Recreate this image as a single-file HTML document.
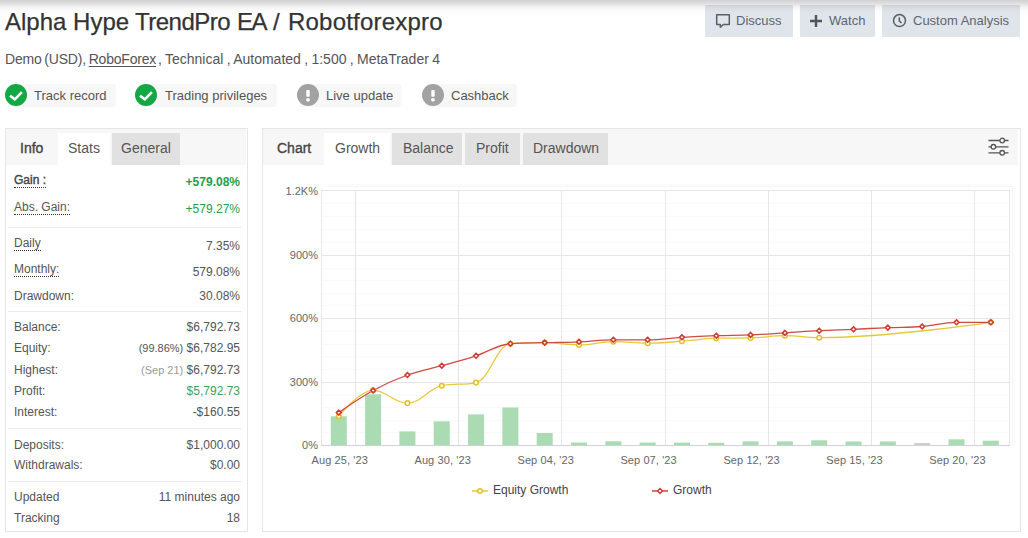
<!DOCTYPE html>
<html><head><meta charset="utf-8">
<style>
*{box-sizing:border-box;margin:0;padding:0}
html,body{width:1028px;height:538px;overflow:hidden;background:#fff}
body{font-family:"Liberation Sans",sans-serif;color:#555;position:relative}
.a{position:absolute;white-space:nowrap}
#topsh{left:0;top:0;width:1028px;height:16px;background:linear-gradient(rgba(0,0,0,.175) 0px,rgba(0,0,0,.14) 2.5px,rgba(0,0,0,.1) 4.5px,rgba(0,0,0,.06) 6.5px,rgba(0,0,0,.03) 8.5px,rgba(0,0,0,.015) 10.5px,rgba(0,0,0,.007) 12.5px,rgba(0,0,0,0) 15px)}
#title{left:5px}
#title,.ttl{top:8px;font-size:24px;line-height:28px;color:#333;-webkit-text-stroke:0.25px #333}
.sub{top:51px;font-size:14px;word-spacing:-0.9px;line-height:17px;color:#555}
.sub u{text-decoration:underline;text-underline-offset:2px}
.btn{top:5px;height:32px;background:#e0e4eb;border-radius:1px;font-size:13px;line-height:32px;color:#5f6670}
.badge{top:84px;height:23px;background:#f7f7f7;border-radius:3px;font-size:13px;line-height:23px;color:#555}
.ic{position:absolute;top:84px;width:22px;height:22px;border-radius:50%}
.ok{background:#14a844}
.warn{background:#a2a2a2}
.panel{position:absolute;top:128px;border:1px solid #e6e6e6;background:#fff}
.hdr{position:absolute;left:0;top:0;height:36px;background:#f7f7f7}
.tab{position:absolute;top:4px;height:32px;font-size:14px;line-height:31px;color:#555}
.tab.on{background:#fff}
.tab.off{background:#e1e1e1}
.tab.b{color:#444;-webkit-text-stroke:0.35px #444}
.lbl{position:absolute;left:8px;font-size:12px;color:#555}
.val{position:absolute;right:7px;font-size:12px;color:#555;text-align:right}
.dot{border-bottom:1px dotted #333}
.sep{position:absolute;left:2px;width:234px;height:1px;background:#ebebeb}
.g{color:#21a04a}
.ax{position:absolute;font-size:11px;color:#666}
</style></head><body>
<div class="a" id="title">Alpha Hype</div>
<div class="a ttl" style="left:135px;letter-spacing:-0.5px">TrendPro</div>
<div class="a ttl" style="left:237px"><span style="letter-spacing:-1.5px">E</span>A</div>
<div class="a ttl" style="left:273px">/</div>
<div class="a ttl" style="left:288px;letter-spacing:0.2px">Robotforexpro</div>
<div class="a sub" style="left:5px;letter-spacing:-0.2px">Demo (USD), <u>RoboForex</u></div>
<div class="a sub" style="left:158px;word-spacing:-0.55px">, Technical , Automated , 1:500 , MetaTrader 4</div>

<div class="a btn" id="b1" style="left:705px;width:88px">
<svg style="position:absolute;left:10px;top:8px" width="16" height="16" viewBox="0 0 16 16"><path d="M1.7 1.7 H14.3 V11.4 H8.6 L5.3 14.2 V11.4 H1.7 Z" fill="none" stroke="#5a5f66" stroke-width="1.5" stroke-linejoin="round"/></svg>
<span style="position:absolute;left:31px">Discuss</span></div>
<div class="a btn" id="b2" style="left:800px;width:75px">
<svg style="position:absolute;left:9px;top:9px" width="14" height="14" viewBox="0 0 14 14"><path d="M7 1V13M1 7H13" stroke="#4f545b" stroke-width="2.4"/></svg>
<span style="position:absolute;left:29px">Watch</span></div>
<div class="a btn" id="b3" style="left:882px;width:138px">
<svg style="position:absolute;left:10px;top:8px" width="16" height="16" viewBox="0 0 16 16"><circle cx="7.5" cy="7.6" r="6" fill="none" stroke="#5a5f66" stroke-width="1.5"/><path d="M7.3 4.3V8.2L9.6 9.9" fill="none" stroke="#5a5f66" stroke-width="1.5"/></svg>
<span style="position:absolute;left:31px">Custom Analysis</span></div>

<div class="a badge" style="left:10px;width:106px"></div>
<div class="ic ok" style="left:5px"><svg width="22" height="22" viewBox="0 0 22 22"><path d="M5 11.8L9.8 15.3L16.9 8.2" fill="none" stroke="#fff" stroke-width="2.6"/></svg></div>
<div class="a badge" id="t1" style="left:34px;padding-left:0">Track record</div>

<div class="a badge" style="left:140px;width:137px"></div>
<div class="ic ok" style="left:135px"><svg width="22" height="22" viewBox="0 0 22 22"><path d="M5 11.8L9.8 15.3L16.9 8.2" fill="none" stroke="#fff" stroke-width="2.6"/></svg></div>
<div class="a badge" id="t2" style="left:165px">Trading privileges</div>

<div class="a badge" style="left:300px;width:101px"></div>
<div class="ic warn" style="left:297px"><svg width="22" height="22" viewBox="0 0 22 22"><rect x="9.3" y="6" width="3.4" height="6.8" rx="0.8" fill="#fff"/><rect x="9.3" y="14.2" width="3.4" height="3.2" rx="1" fill="#fff"/></svg></div>
<div class="a badge" id="t3" style="left:326px">Live update</div>

<div class="a badge" style="left:425px;width:92px"></div>
<div class="ic warn" style="left:422px"><svg width="22" height="22" viewBox="0 0 22 22"><rect x="9.3" y="6" width="3.4" height="6.8" rx="0.8" fill="#fff"/><rect x="9.3" y="14.2" width="3.4" height="3.2" rx="1" fill="#fff"/></svg></div>
<div class="a badge" id="t4" style="left:451px">Cashback</div>

<!-- left panel -->
<div class="panel" style="left:5px;width:243px;height:404px">
 <div class="hdr" style="width:240px"></div>
 <div class="tab b" id="tInfo" style="left:14px">Info</div>
 <div class="tab on" id="tStats" style="left:52px;width:52px;padding-left:10px">Stats</div>
 <div class="tab off" id="tGen" style="left:106px;width:68px;padding-left:9px">General</div>

 <div class="lbl" id="lGain" style="top:44px;color:#444;-webkit-text-stroke:0.4px #444"><span class="dot">Gain :</span></div>
 <div class="val g" style="top:46px;font-weight:bold">+579.08%</div>
 <div class="lbl" style="top:71px"><span class="dot">Abs. Gain:</span></div>
 <div class="val g" style="top:73px">+579.27%</div>
 <div class="sep" style="top:98px"></div>
 <div class="lbl" style="top:107px"><span class="dot">Daily</span></div>
 <div class="val" style="top:110px">7.35%</div>
 <div class="lbl" style="top:133px"><span class="dot">Monthly:</span></div>
 <div class="val" style="top:136px">579.08%</div>
 <div class="lbl" style="top:160px">Drawdown:</div>
 <div class="val" style="top:160px">30.08%</div>
 <div class="sep" style="top:182px"></div>
 <div class="lbl" style="top:191px">Balance:</div>
 <div class="val" style="top:191px">$6,792.73</div>
 <div class="lbl" style="top:212px">Equity:</div>
 <div class="val" style="top:212px"><span style="font-size:11px">(99.86%)</span> $6,782.95</div>
 <div class="lbl" style="top:234px">Highest:</div>
 <div class="val" style="top:234px"><span style="font-size:11px;color:#999">(Sep 21)</span> $6,792.73</div>
 <div class="lbl" style="top:255px">Profit:</div>
 <div class="val g" style="top:255px;color:#3aa35a">$5,792.73</div>
 <div class="lbl" style="top:276px">Interest:</div>
 <div class="val" style="top:276px">-$160.55</div>
 <div class="sep" style="top:299px"></div>
 <div class="lbl" style="top:309px">Deposits:</div>
 <div class="val" style="top:309px">$1,000.00</div>
 <div class="lbl" style="top:329px">Withdrawals:</div>
 <div class="val" style="top:329px">$0.00</div>
 <div class="sep" style="top:352px"></div>
 <div class="lbl" style="top:361px">Updated</div>
 <div class="val" style="top:361px">11 minutes ago</div>
 <div class="lbl" style="top:382px">Tracking</div>
 <div class="val" style="top:382px">18</div>
</div>

<!-- chart panel -->
<div class="panel" style="left:262px;width:759px;height:404px">
 <div class="hdr" style="width:755px"></div>
 <div class="tab b" id="tChart" style="left:14px">Chart</div>
 <div class="tab on" id="tGrowth" style="left:61px;width:66px;padding-left:11px">Growth</div>
 <div class="tab off" id="tBal" style="left:129px;width:70px;padding-left:11px">Balance</div>
 <div class="tab off" id="tProf" style="left:202px;width:55px;padding-left:11px">Profit</div>
 <div class="tab off" id="tDD" style="left:260px;width:85px;padding-left:10px">Drawdown</div>
 <svg style="position:absolute;left:724px;top:8px" width="24" height="20" viewBox="0 0 24 20"><g fill="none" stroke="#555" stroke-width="1.3"><path d="M1.5 3.5H21.5M1.5 9.8H21.5M1.5 15.8H21.5"/><circle cx="15.2" cy="3.5" r="2.3" fill="#f7f7f7"/><circle cx="6.4" cy="9.8" r="2.3" fill="#f7f7f7"/><circle cx="15.2" cy="15.8" r="2.3" fill="#f7f7f7"/></g></svg>
</div>

<svg class="a" style="left:0;top:0" width="1028" height="538" viewBox="0 0 1028 538">
<line x1="321.0" y1="203.5" x2="1010.0" y2="203.5" stroke="#fafafa" stroke-width="1"/>
<line x1="321.0" y1="216.5" x2="1010.0" y2="216.5" stroke="#fafafa" stroke-width="1"/>
<line x1="321.0" y1="229.5" x2="1010.0" y2="229.5" stroke="#fafafa" stroke-width="1"/>
<line x1="321.0" y1="242.5" x2="1010.0" y2="242.5" stroke="#fafafa" stroke-width="1"/>
<line x1="321.0" y1="268.5" x2="1010.0" y2="268.5" stroke="#fafafa" stroke-width="1"/>
<line x1="321.0" y1="280.5" x2="1010.0" y2="280.5" stroke="#fafafa" stroke-width="1"/>
<line x1="321.0" y1="293.5" x2="1010.0" y2="293.5" stroke="#fafafa" stroke-width="1"/>
<line x1="321.0" y1="305.5" x2="1010.0" y2="305.5" stroke="#fafafa" stroke-width="1"/>
<line x1="321.0" y1="331.5" x2="1010.0" y2="331.5" stroke="#fafafa" stroke-width="1"/>
<line x1="321.0" y1="344.5" x2="1010.0" y2="344.5" stroke="#fafafa" stroke-width="1"/>
<line x1="321.0" y1="356.5" x2="1010.0" y2="356.5" stroke="#fafafa" stroke-width="1"/>
<line x1="321.0" y1="369.5" x2="1010.0" y2="369.5" stroke="#fafafa" stroke-width="1"/>
<line x1="321.0" y1="395.5" x2="1010.0" y2="395.5" stroke="#fafafa" stroke-width="1"/>
<line x1="321.0" y1="407.5" x2="1010.0" y2="407.5" stroke="#fafafa" stroke-width="1"/>
<line x1="321.0" y1="420.5" x2="1010.0" y2="420.5" stroke="#fafafa" stroke-width="1"/>
<line x1="321.0" y1="432.5" x2="1010.0" y2="432.5" stroke="#fafafa" stroke-width="1"/>
<line x1="321.0" y1="190.5" x2="1010.0" y2="190.5" stroke="#e6e6e6" stroke-width="1"/>
<line x1="321.0" y1="255.5" x2="1010.0" y2="255.5" stroke="#e6e6e6" stroke-width="1"/>
<line x1="321.0" y1="318.5" x2="1010.0" y2="318.5" stroke="#e6e6e6" stroke-width="1"/>
<line x1="321.0" y1="382.5" x2="1010.0" y2="382.5" stroke="#e6e6e6" stroke-width="1"/>
<line x1="355.5" y1="190.0" x2="355.5" y2="445.0" stroke="#e6e6e6" stroke-width="1"/>
<line x1="458.5" y1="190.0" x2="458.5" y2="445.0" stroke="#e6e6e6" stroke-width="1"/>
<line x1="561.5" y1="190.0" x2="561.5" y2="445.0" stroke="#e6e6e6" stroke-width="1"/>
<line x1="665.5" y1="190.0" x2="665.5" y2="445.0" stroke="#e6e6e6" stroke-width="1"/>
<line x1="768.5" y1="190.0" x2="768.5" y2="445.0" stroke="#e6e6e6" stroke-width="1"/>
<line x1="871.5" y1="190.0" x2="871.5" y2="445.0" stroke="#e6e6e6" stroke-width="1"/>
<line x1="974.5" y1="190.0" x2="974.5" y2="445.0" stroke="#e6e6e6" stroke-width="1"/>
<line x1="321.5" y1="190.0" x2="321.5" y2="445.0" stroke="#e6e6e6" stroke-width="1"/>
<line x1="1009.5" y1="190.0" x2="1009.5" y2="445.0" stroke="#e6e6e6" stroke-width="1"/>
<line x1="328" y1="184.5" x2="1012" y2="184.5" stroke="#f9f9f9" stroke-width="1"/>
<line x1="328" y1="186.5" x2="1012" y2="186.5" stroke="#f4f4f4" stroke-width="1"/>
<line x1="1012.5" y1="186" x2="1012.5" y2="445" stroke="#f6f6f6" stroke-width="1"/>
<line x1="1014.5" y1="186" x2="1014.5" y2="445" stroke="#fafafa" stroke-width="1"/>
<line x1="321.0" y1="445.5" x2="1010.0" y2="445.5" stroke="#cfd3d8" stroke-width="1"/>
<rect x="330.80" y="416.30" width="16" height="29.00" fill="#aadbb2"/>
<rect x="365.12" y="394.30" width="16" height="51.00" fill="#aadbb2"/>
<rect x="399.43" y="431.40" width="16" height="13.90" fill="#aadbb2"/>
<rect x="433.75" y="421.30" width="16" height="24.00" fill="#aadbb2"/>
<rect x="468.06" y="414.40" width="16" height="30.90" fill="#aadbb2"/>
<rect x="502.38" y="407.50" width="16" height="37.80" fill="#aadbb2"/>
<rect x="536.70" y="433.00" width="16" height="12.30" fill="#aadbb2"/>
<rect x="571.01" y="442.50" width="16" height="2.80" fill="#aadbb2"/>
<rect x="605.33" y="441.30" width="16" height="4.00" fill="#aadbb2"/>
<rect x="639.64" y="442.50" width="16" height="2.80" fill="#aadbb2"/>
<rect x="673.96" y="442.60" width="16" height="2.70" fill="#aadbb2"/>
<rect x="708.28" y="442.80" width="16" height="2.50" fill="#aadbb2"/>
<rect x="742.59" y="441.40" width="16" height="3.90" fill="#aadbb2"/>
<rect x="776.91" y="441.40" width="16" height="3.90" fill="#aadbb2"/>
<rect x="811.22" y="440.30" width="16" height="5.00" fill="#aadbb2"/>
<rect x="845.54" y="441.50" width="16" height="3.80" fill="#aadbb2"/>
<rect x="879.86" y="441.50" width="16" height="3.80" fill="#aadbb2"/>
<rect x="914.17" y="443.00" width="16" height="2.30" fill="#cfcfcf"/>
<rect x="948.49" y="439.30" width="16" height="6.00" fill="#aadbb2"/>
<rect x="982.80" y="440.70" width="16" height="4.60" fill="#aadbb2"/>
<path d="M 338.80 416.20 C 338.80 416.20 359.39 390.30 373.12 390.30 C 386.84 390.30 393.71 403.10 407.43 403.10 C 421.16 403.10 428.02 388.80 441.75 385.70 C 455.47 382.60 462.34 385.70 476.06 382.60 C 489.79 379.50 496.65 344.80 510.38 343.70 C 524.11 342.60 530.97 342.60 544.70 342.60 C 558.42 342.60 565.29 344.90 579.01 344.90 C 592.74 344.90 599.60 341.70 613.33 341.70 C 627.05 341.70 633.92 343.20 647.64 343.20 C 661.37 343.20 668.23 342.20 681.96 341.20 C 695.69 340.20 702.55 338.50 716.28 338.20 C 730.00 337.90 736.87 338.20 750.59 337.90 C 764.32 337.60 771.18 335.70 784.91 335.70 C 798.63 335.70 805.50 337.70 819.22 337.70 C 887.86 337.70 990.80 322.30 990.80 322.30" fill="none" stroke="#e8c83a" stroke-width="1.3"/>
<path d="M 338.80 412.60 C 338.80 412.60 359.39 398.02 373.12 390.50 C 386.84 382.98 393.71 379.96 407.43 375.00 C 421.16 370.04 428.02 369.54 441.75 365.70 C 455.47 361.86 462.34 360.20 476.06 355.80 C 489.79 351.40 496.65 344.80 510.38 343.70 C 524.11 342.60 530.97 342.98 544.70 342.60 C 558.42 342.22 565.29 342.36 579.01 341.80 C 592.74 341.24 599.60 339.80 613.33 339.80 C 627.05 339.80 633.92 339.80 647.64 339.80 C 661.37 339.80 668.23 338.12 681.96 337.30 C 695.69 336.48 702.55 336.18 716.28 335.70 C 730.00 335.22 736.87 335.46 750.59 334.90 C 764.32 334.34 771.18 333.74 784.91 332.90 C 798.63 332.06 805.50 331.42 819.22 330.70 C 832.95 329.98 839.81 329.92 853.54 329.30 C 867.27 328.68 874.13 328.16 887.86 327.60 C 901.58 327.04 908.45 327.56 922.17 326.50 C 935.90 325.44 942.76 322.30 956.49 322.30 C 970.21 322.30 990.80 322.30 990.80 322.30" fill="none" stroke="#d24a44" stroke-width="1.3"/>
<circle cx="338.80" cy="416.20" r="2.3" fill="#fff" stroke="#e3c020" stroke-width="1.5"/>
<circle cx="373.12" cy="390.30" r="2.3" fill="#fff" stroke="#e3c020" stroke-width="1.5"/>
<circle cx="407.43" cy="403.10" r="2.3" fill="#fff" stroke="#e3c020" stroke-width="1.5"/>
<circle cx="441.75" cy="385.70" r="2.3" fill="#fff" stroke="#e3c020" stroke-width="1.5"/>
<circle cx="476.06" cy="382.60" r="2.3" fill="#fff" stroke="#e3c020" stroke-width="1.5"/>
<circle cx="510.38" cy="343.70" r="2.3" fill="#fff" stroke="#e3c020" stroke-width="1.5"/>
<circle cx="544.70" cy="342.60" r="2.3" fill="#fff" stroke="#e3c020" stroke-width="1.5"/>
<circle cx="579.01" cy="344.90" r="2.3" fill="#fff" stroke="#e3c020" stroke-width="1.5"/>
<circle cx="613.33" cy="341.70" r="2.3" fill="#fff" stroke="#e3c020" stroke-width="1.5"/>
<circle cx="647.64" cy="343.20" r="2.3" fill="#fff" stroke="#e3c020" stroke-width="1.5"/>
<circle cx="681.96" cy="341.20" r="2.3" fill="#fff" stroke="#e3c020" stroke-width="1.5"/>
<circle cx="716.28" cy="338.20" r="2.3" fill="#fff" stroke="#e3c020" stroke-width="1.5"/>
<circle cx="750.59" cy="337.90" r="2.3" fill="#fff" stroke="#e3c020" stroke-width="1.5"/>
<circle cx="784.91" cy="335.70" r="2.3" fill="#fff" stroke="#e3c020" stroke-width="1.5"/>
<circle cx="819.22" cy="337.70" r="2.3" fill="#fff" stroke="#e3c020" stroke-width="1.5"/>
<circle cx="990.80" cy="322.30" r="2.3" fill="#fff" stroke="#e3c020" stroke-width="1.5"/>
<path d="M 338.80 410.20 l 2.4 2.4 l -2.4 2.4 l -2.4 -2.4 z" fill="#fff" stroke="#cf3b35" stroke-width="1.6"/>
<path d="M 373.12 388.10 l 2.4 2.4 l -2.4 2.4 l -2.4 -2.4 z" fill="#fff" stroke="#cf3b35" stroke-width="1.6"/>
<path d="M 407.43 372.60 l 2.4 2.4 l -2.4 2.4 l -2.4 -2.4 z" fill="#fff" stroke="#cf3b35" stroke-width="1.6"/>
<path d="M 441.75 363.30 l 2.4 2.4 l -2.4 2.4 l -2.4 -2.4 z" fill="#fff" stroke="#cf3b35" stroke-width="1.6"/>
<path d="M 476.06 353.40 l 2.4 2.4 l -2.4 2.4 l -2.4 -2.4 z" fill="#fff" stroke="#cf3b35" stroke-width="1.6"/>
<path d="M 510.38 341.30 l 2.4 2.4 l -2.4 2.4 l -2.4 -2.4 z" fill="#fff" stroke="#cf3b35" stroke-width="1.6"/>
<path d="M 544.70 340.20 l 2.4 2.4 l -2.4 2.4 l -2.4 -2.4 z" fill="#fff" stroke="#cf3b35" stroke-width="1.6"/>
<path d="M 579.01 339.40 l 2.4 2.4 l -2.4 2.4 l -2.4 -2.4 z" fill="#fff" stroke="#cf3b35" stroke-width="1.6"/>
<path d="M 613.33 337.40 l 2.4 2.4 l -2.4 2.4 l -2.4 -2.4 z" fill="#fff" stroke="#cf3b35" stroke-width="1.6"/>
<path d="M 647.64 337.40 l 2.4 2.4 l -2.4 2.4 l -2.4 -2.4 z" fill="#fff" stroke="#cf3b35" stroke-width="1.6"/>
<path d="M 681.96 334.90 l 2.4 2.4 l -2.4 2.4 l -2.4 -2.4 z" fill="#fff" stroke="#cf3b35" stroke-width="1.6"/>
<path d="M 716.28 333.30 l 2.4 2.4 l -2.4 2.4 l -2.4 -2.4 z" fill="#fff" stroke="#cf3b35" stroke-width="1.6"/>
<path d="M 750.59 332.50 l 2.4 2.4 l -2.4 2.4 l -2.4 -2.4 z" fill="#fff" stroke="#cf3b35" stroke-width="1.6"/>
<path d="M 784.91 330.50 l 2.4 2.4 l -2.4 2.4 l -2.4 -2.4 z" fill="#fff" stroke="#cf3b35" stroke-width="1.6"/>
<path d="M 819.22 328.30 l 2.4 2.4 l -2.4 2.4 l -2.4 -2.4 z" fill="#fff" stroke="#cf3b35" stroke-width="1.6"/>
<path d="M 853.54 326.90 l 2.4 2.4 l -2.4 2.4 l -2.4 -2.4 z" fill="#fff" stroke="#cf3b35" stroke-width="1.6"/>
<path d="M 887.86 325.20 l 2.4 2.4 l -2.4 2.4 l -2.4 -2.4 z" fill="#fff" stroke="#cf3b35" stroke-width="1.6"/>
<path d="M 922.17 324.10 l 2.4 2.4 l -2.4 2.4 l -2.4 -2.4 z" fill="#fff" stroke="#cf3b35" stroke-width="1.6"/>
<path d="M 956.49 319.90 l 2.4 2.4 l -2.4 2.4 l -2.4 -2.4 z" fill="#fff" stroke="#cf3b35" stroke-width="1.6"/>
<path d="M 990.80 319.90 l 2.4 2.4 l -2.4 2.4 l -2.4 -2.4 z" fill="#fff" stroke="#cf3b35" stroke-width="1.6"/>
</svg>
<div class="ax" style="right:710px;top:184.5px;line-height:13px;text-align:right">1.2K%</div>
<div class="ax" style="right:710px;top:248.5px;line-height:13px;text-align:right">900%</div>
<div class="ax" style="right:710px;top:311.5px;line-height:13px;text-align:right">600%</div>
<div class="ax" style="right:710px;top:375.5px;line-height:13px;text-align:right">300%</div>
<div class="ax" style="right:710px;top:438.5px;line-height:13px;text-align:right">0%</div>
<div class="ax" style="left:338.8px;top:453.5px;width:100px;margin-left:-49px;text-align:center;line-height:13px;letter-spacing:0.1px">Aug 25, '23</div>
<div class="ax" style="left:441.7px;top:453.5px;width:100px;margin-left:-49px;text-align:center;line-height:13px;letter-spacing:0.1px">Aug 30, '23</div>
<div class="ax" style="left:544.7px;top:453.5px;width:100px;margin-left:-49px;text-align:center;line-height:13px;letter-spacing:0.1px">Sep 04, '23</div>
<div class="ax" style="left:647.6px;top:453.5px;width:100px;margin-left:-49px;text-align:center;line-height:13px;letter-spacing:0.1px">Sep 07, '23</div>
<div class="ax" style="left:750.6px;top:453.5px;width:100px;margin-left:-49px;text-align:center;line-height:13px;letter-spacing:0.1px">Sep 12, '23</div>
<div class="ax" style="left:853.5px;top:453.5px;width:100px;margin-left:-49px;text-align:center;line-height:13px;letter-spacing:0.1px">Sep 15, '23</div>
<div class="ax" style="left:956.5px;top:453.5px;width:100px;margin-left:-49px;text-align:center;line-height:13px;letter-spacing:0.1px">Sep 20, '23</div>
<svg class="a" style="left:470px;top:484px" width="20" height="14"><line x1="2" y1="7" x2="18" y2="7" stroke="#e8c62e" stroke-width="1.5"/><circle cx="10" cy="7" r="2.3" fill="#fff" stroke="#e3c020" stroke-width="1.4"/></svg>
<div class="ax" style="left:493px;top:483px;font-size:12px;color:#444;line-height:14px">Equity Growth</div>
<svg class="a" style="left:650px;top:484px" width="20" height="14"><line x1="2" y1="7" x2="18" y2="7" stroke="#d0453d" stroke-width="1.5"/><path d="M10 4.6L12.4 7L10 9.4L7.6 7Z" fill="#fff" stroke="#cf3b35" stroke-width="1.4"/></svg>
<div class="ax" style="left:673px;top:483px;font-size:12px;color:#444;line-height:14px">Growth</div>
<div class="a" id="topsh"></div>
</body></html>
